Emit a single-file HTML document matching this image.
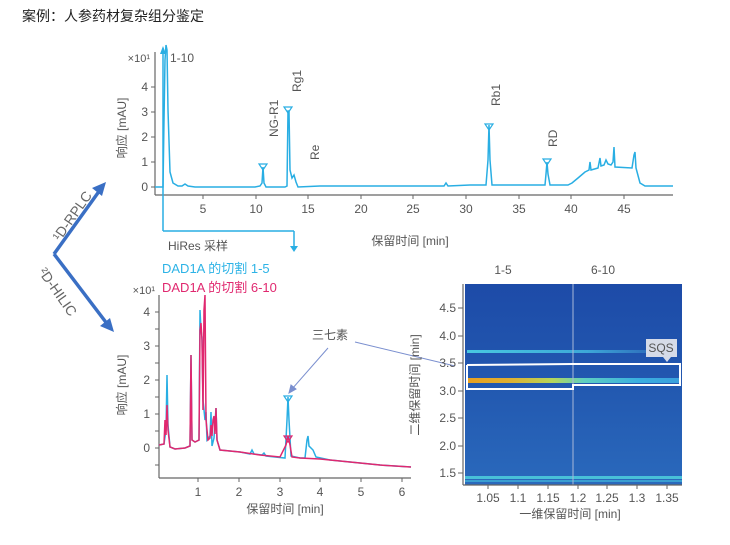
<!DOCTYPE html>
<html><head><meta charset="utf-8"><style>
body{margin:0;background:#fff;width:730px;height:545px;overflow:hidden}
svg{display:block;font-family:"Liberation Sans","Noto Sans CJK SC",sans-serif}
</style></head><body>
<svg width="730" height="545" viewBox="0 0 730 545">
<text x="22" y="21" font-size="14" fill="#222">案例：人参药材复杂组分鉴定</text>

<!-- left arrows -->
<g stroke="#3a6fc4" stroke-width="3.5" fill="#3a6fc4">
<line x1="54" y1="254" x2="100" y2="190"/><polygon points="106,182 92,188 102,196" stroke="none"/>
<line x1="54" y1="254" x2="108" y2="325"/><polygon points="114,332 100,326 110,318" stroke="none"/>
</g>
<text transform="translate(60,242) rotate(-55)" font-size="14" fill="#666">¹D-RPLC</text>
<text transform="translate(38,272) rotate(55)" font-size="14" fill="#666">²D-HILIC</text>

<!-- top chart -->
<g stroke="#666" stroke-width="1.2" fill="none">
<line x1="155" y1="52" x2="155" y2="195"/><line x1="155" y1="195" x2="673" y2="195"/>
</g>
<g stroke="#666" stroke-width="1">
<line x1="151" y1="187" x2="155" y2="187"/><line x1="151" y1="162" x2="155" y2="162"/><line x1="151" y1="137" x2="155" y2="137"/><line x1="151" y1="112" x2="155" y2="112"/><line x1="151" y1="87" x2="155" y2="87"/>
<line x1="203" y1="195" x2="203" y2="199"/><line x1="256" y1="195" x2="256" y2="199"/><line x1="308" y1="195" x2="308" y2="199"/><line x1="361" y1="195" x2="361" y2="199"/><line x1="413" y1="195" x2="413" y2="199"/><line x1="466" y1="195" x2="466" y2="199"/><line x1="519" y1="195" x2="519" y2="199"/><line x1="571" y1="195" x2="571" y2="199"/><line x1="624" y1="195" x2="624" y2="199"/>
</g>
<g font-size="12" fill="#555" text-anchor="end">
<text x="148" y="191">0</text><text x="148" y="166">1</text><text x="148" y="141">2</text><text x="148" y="116">3</text><text x="148" y="91">4</text>
<text x="150" y="62" font-size="11">×10¹</text>
</g>
<g font-size="12" fill="#555" text-anchor="middle">
<text x="203" y="213">5</text><text x="256" y="213">10</text><text x="308" y="213">15</text><text x="361" y="213">20</text><text x="413" y="213">25</text><text x="466" y="213">30</text><text x="519" y="213">35</text><text x="571" y="213">40</text><text x="624" y="213">45</text>
<text x="410" y="245">保留时间 [min]</text>
</g>
<text transform="translate(126,128) rotate(-90)" font-size="12" fill="#555" text-anchor="middle">响应 [mAU]</text>
<polyline fill="none" stroke="#29aee3" stroke-width="1.5" points="155,187 163,187 164,120 165,60 166,45 167,50 168,110 170,172 173,183 178,186 182,186 185,184 188,186 195,187 255,187 260,186 262,183 263,167 264,183 266,187 285,187 287,186 288,111 289,111 290,170 292,178 294,175 296,182 298,187 320,186 380,186 410,186 444,186 446,183 448,186 470,185 486,185 488,160 489,125 490,160 492,185 510,185 545,185 546,174 547,162 548,174 550,185 568,185 572,183 578,178 585,172 589,170 590,162 591,170 598,168 600,158 601,166 604,165 606,160 608,164 611,165 613,162 614,147 615,167 632,168 634,155 635,152 636,168 640,183 645,186 673,186"/>
<g fill="none" stroke="#29aee3" stroke-width="1.2">
<polygon points="259,164 267,164 263,170"/><polygon points="284,107 292,107 288,113"/><polygon points="485,124 493,124 489,130"/><polygon points="543,159 551,159 547,165"/>
</g>
<g font-size="12" fill="#555">
<text transform="translate(278,137) rotate(-90)">NG-R1</text>
<text transform="translate(301,92) rotate(-90)">Rg1</text>
<text transform="translate(319,160) rotate(-90)">Re</text>
<text transform="translate(500,106) rotate(-90)">Rb1</text>
<text transform="translate(557,147) rotate(-90)">RD</text>
<text x="170" y="62">1-10</text>
<text x="168" y="250">HiRes 采样</text>
</g>
<g stroke="#29aee3" stroke-width="1.5" fill="#29aee3">
<line x1="163" y1="50" x2="163" y2="231"/><line x1="163" y1="231" x2="294" y2="231"/><line x1="294" y1="231" x2="294" y2="248"/>
<polygon points="290,246 298,246 294,252" stroke="none"/><polygon points="160,54 166,54 163,46" stroke="none"/>
</g>

<!-- bottom chart -->
<text x="162" y="273" font-size="13" fill="#2db3e6">DAD1A 的切割 1-5</text>
<text x="162" y="292" font-size="13" fill="#e0286f">DAD1A 的切割 6-10</text>
<g stroke="#666" stroke-width="1.2" fill="none">
<line x1="159" y1="295" x2="159" y2="478"/><line x1="159" y1="478" x2="411" y2="478"/>
</g>
<g stroke="#666" stroke-width="1">
<line x1="155" y1="448" x2="159" y2="448"/><line x1="155" y1="414" x2="159" y2="414"/><line x1="155" y1="380" x2="159" y2="380"/><line x1="155" y1="346" x2="159" y2="346"/><line x1="155" y1="312" x2="159" y2="312"/><line x1="155" y1="465" x2="159" y2="465"/><line x1="155" y1="431" x2="159" y2="431"/><line x1="155" y1="397" x2="159" y2="397"/><line x1="155" y1="363" x2="159" y2="363"/><line x1="155" y1="329" x2="159" y2="329"/>
<line x1="198" y1="478" x2="198" y2="482"/><line x1="239" y1="478" x2="239" y2="482"/><line x1="280" y1="478" x2="280" y2="482"/><line x1="320" y1="478" x2="320" y2="482"/><line x1="361" y1="478" x2="361" y2="482"/><line x1="402" y1="478" x2="402" y2="482"/>
</g>
<g font-size="12" fill="#555" text-anchor="end">
<text x="150" y="452">0</text><text x="150" y="418">1</text><text x="150" y="384">2</text><text x="150" y="350">3</text><text x="150" y="316">4</text>
<text x="155" y="294" font-size="11">×10¹</text>
</g>
<g font-size="12" fill="#555" text-anchor="middle">
<text x="198" y="496">1</text><text x="239" y="496">2</text><text x="280" y="496">3</text><text x="320" y="496">4</text><text x="361" y="496">5</text><text x="402" y="496">6</text>
<text x="285" y="513">保留时间 [min]</text>
</g>
<text transform="translate(126,385) rotate(-90)" font-size="12" fill="#555" text-anchor="middle">响应 [mAU]</text>
<polyline fill="none" stroke="#29aee3" stroke-width="1.5" points="159,445 164,444 166,430 167,375 168,425 170,447 175,449 185,448 190,446 191,355 192,440 195,442 199,440 200,310 201,330 202,337 203,400 205,420 206,412 207,440 210,436 211,412 212,446 214,438 216,408 217,440 220,450 240,452 250,454 252,450 254,454 262,455 264,453 266,456 275,457 285,458 287,420 288,397 289,420 291,456 300,458 305,458 307,440 308,436 309,446 313,450 316,457 330,460 350,462 380,465 411,467"/>
<polyline fill="none" stroke="#e0286f" stroke-width="1.5" points="159,445 164,444 165,420 166,435 167,405 168,430 170,447 175,449 185,448 190,446 191,355 192,440 195,442 199,440 200,330 201,323 202,340 203,410 204,310 205,295 206,420 208,440 210,438 211,425 212,436 213,420 214,416 215,434 216,408 217,440 220,450 240,452 260,455 280,457 286,445 288,436 290,445 292,457 300,458 320,459 330,460 350,462 380,465 411,467"/>
<g fill="none" stroke-width="1.2">
<polygon points="284,396 292,396 288,402" stroke="#29aee3"/><polygon points="284,436 292,436 288,442" stroke="#e0286f"/>
</g>
<text x="312" y="339" font-size="12" fill="#555">三七素</text>
<g stroke="#7a8fcf" stroke-width="1" fill="#7a8fcf">
<line x1="328" y1="348" x2="292" y2="389"/><polygon points="289,393 291,385 296,389"/>
<line x1="355" y1="342" x2="455" y2="366"/>
</g>

<!-- heatmap -->
<defs>
<linearGradient id="bg" x1="0" y1="0" x2="0" y2="1">
<stop offset="0" stop-color="#1d4ba8"/><stop offset="0.5" stop-color="#2258b0"/><stop offset="1" stop-color="#2a69bc"/>
</linearGradient>
<linearGradient id="hot" x1="0" y1="0" x2="1" y2="0">
<stop offset="0" stop-color="#e8a020"/><stop offset="0.2" stop-color="#e0b030"/><stop offset="0.4" stop-color="#b6d65a"/><stop offset="0.55" stop-color="#5fd0c0"/><stop offset="0.8" stop-color="#3ab0e0"/><stop offset="1" stop-color="#3aa0dd"/>
</linearGradient>
<linearGradient id="cy" x1="0" y1="0" x2="1" y2="0">
<stop offset="0" stop-color="#48c8e0"/><stop offset="0.6" stop-color="#3da8d8"/><stop offset="1" stop-color="#2a5fb5"/>
</linearGradient>
</defs>
<rect x="465" y="284" width="217" height="201" fill="url(#bg)"/>
<rect x="467" y="350" width="200" height="3" fill="url(#cy)"/>
<rect x="467" y="378" width="213" height="5" fill="url(#hot)"/>
<rect x="465" y="476" width="217" height="3" fill="#48c0d8"/>
<rect x="465" y="480" width="217" height="2" fill="#3a9ed0"/>
<line x1="573" y1="284" x2="573" y2="485" stroke="#a8b8d8" stroke-width="1"/>
<g fill="none" stroke="#fff" stroke-width="2">
<polyline points="467,365 573,364 680,364 680,385 573,385 573,389 467,389 467,365"/>
</g>
<g stroke="#666" stroke-width="1.2" fill="none"><line x1="463" y1="284" x2="463" y2="485"/><line x1="463" y1="485" x2="682" y2="485"/></g>
<g stroke="#666" stroke-width="1">
<line x1="458" y1="308" x2="463" y2="308"/><line x1="458" y1="336" x2="463" y2="336"/><line x1="458" y1="363" x2="463" y2="363"/><line x1="458" y1="391" x2="463" y2="391"/><line x1="458" y1="418" x2="463" y2="418"/><line x1="458" y1="446" x2="463" y2="446"/><line x1="458" y1="473" x2="463" y2="473"/>
<line x1="488" y1="485" x2="488" y2="489"/><line x1="518" y1="485" x2="518" y2="489"/><line x1="548" y1="485" x2="548" y2="489"/><line x1="578" y1="485" x2="578" y2="489"/><line x1="607" y1="485" x2="607" y2="489"/><line x1="637" y1="485" x2="637" y2="489"/><line x1="667" y1="485" x2="667" y2="489"/>
</g>
<g font-size="12" fill="#555" text-anchor="end">
<text x="456" y="312">4.5</text><text x="456" y="340">4.0</text><text x="456" y="367">3.5</text><text x="456" y="395">3.0</text><text x="456" y="422">2.5</text><text x="456" y="450">2.0</text><text x="456" y="477">1.5</text>
</g>
<g font-size="12" fill="#555" text-anchor="middle">
<text x="488" y="502">1.05</text><text x="518" y="502">1.1</text><text x="548" y="502">1.15</text><text x="578" y="502">1.2</text><text x="607" y="502">1.25</text><text x="637" y="502">1.3</text><text x="667" y="502">1.35</text>
<text x="570" y="518">一维保留时间 [min]</text>
<text x="503" y="274">1-5</text><text x="603" y="274">6-10</text>
</g>
<text transform="translate(419,385) rotate(-90)" font-size="12" fill="#555" text-anchor="middle">二维保留时间 [min]</text>
<rect x="646" y="339" width="31" height="18" fill="#d6dbe8"/>
<polygon points="663,357 671,357 667,362" fill="#d6dbe8"/>
<text x="661" y="352" font-size="12" fill="#555" text-anchor="middle">SQS</text>
</svg>
</body></html>
